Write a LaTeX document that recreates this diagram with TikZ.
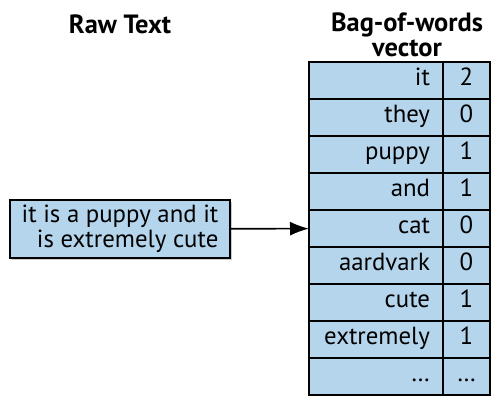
\documentclass[tikz,border=0pt]{standalone}
\usepackage{fontspec}
\setmainfont{PT Sans}
\usepackage{tikz}
\usetikzlibrary{positioning, arrows.meta, shadows}

\definecolor{bowblue}{RGB}{180,213,236}

\tikzset{
	cell/.style={draw=black, line width=1.2pt, fill=bowblue, outer sep=0pt, minimum height=18.5pt, inner sep=0pt,
		text height=0.72em, text depth=0.22em},
	word/.style={cell, minimum width=67pt, text width=54pt, align=right},
	count/.style={cell, minimum width=23.5pt, align=center},
	title/.style={font=\fontsize{13.2}{12.6}\selectfont\bfseries, align=center},
}

\begin{document}
\begin{tikzpicture}[x=0.5pt, y=-0.5pt, font=\fontsize{12.4}{11}\selectfont]
		\useasboundingbox (0,0) rectangle (492,396);

		\node[title] (rawtitle) at (120,24) {Raw Text};
		\node[title] (bowtitle) at (407,35) {Bag-of-words\\vector};

		\node[word, anchor=north west] (w1) at (309,62) {it};
		\node[word, below=0pt of w1] (w2) {they};
		\node[word, below=0pt of w2] (w3) {puppy};
		\node[word, below=0pt of w3] (w4) {and};
		\node[word, below=0pt of w4] (w5) {cat};
		\node[word, below=0pt of w5] (w6) {aardvark};
		\node[word, below=0pt of w6] (w7) {cute};
		\node[word, below=0pt of w7] (w8) {extremely};
		\node[word, below=0pt of w8] (w9) {\dots};

		\node[count, right=0pt of w1] (c1) {2};
		\node[count, right=0pt of w2] (c2) {0};
		\node[count, right=0pt of w3] (c3) {1};
		\node[count, right=0pt of w4] (c4) {1};
		\node[count, right=0pt of w5] (c5) {0};
		\node[count, right=0pt of w6] (c6) {0};
		\node[count, right=0pt of w7] (c7) {1};
		\node[count, right=0pt of w8] (c8) {1};
		\node[count, right=0pt of w9] (c9) {\dots};

		\node[draw=black, line width=1.2pt, fill=bowblue, minimum width=110pt, minimum height=29pt,
			inner sep=0pt, align=right,
			drop shadow={opacity=0.4, shadow xshift=1.2pt, shadow yshift=-1.2pt}] (raw) at (120,229)
			{it is a puppy and it\\is extremely cute};

		\draw[-{Latex[length=9.5pt, width=7pt]}, line width=0.8pt] (raw) -- (w5);
	\end{tikzpicture}
\end{document}
